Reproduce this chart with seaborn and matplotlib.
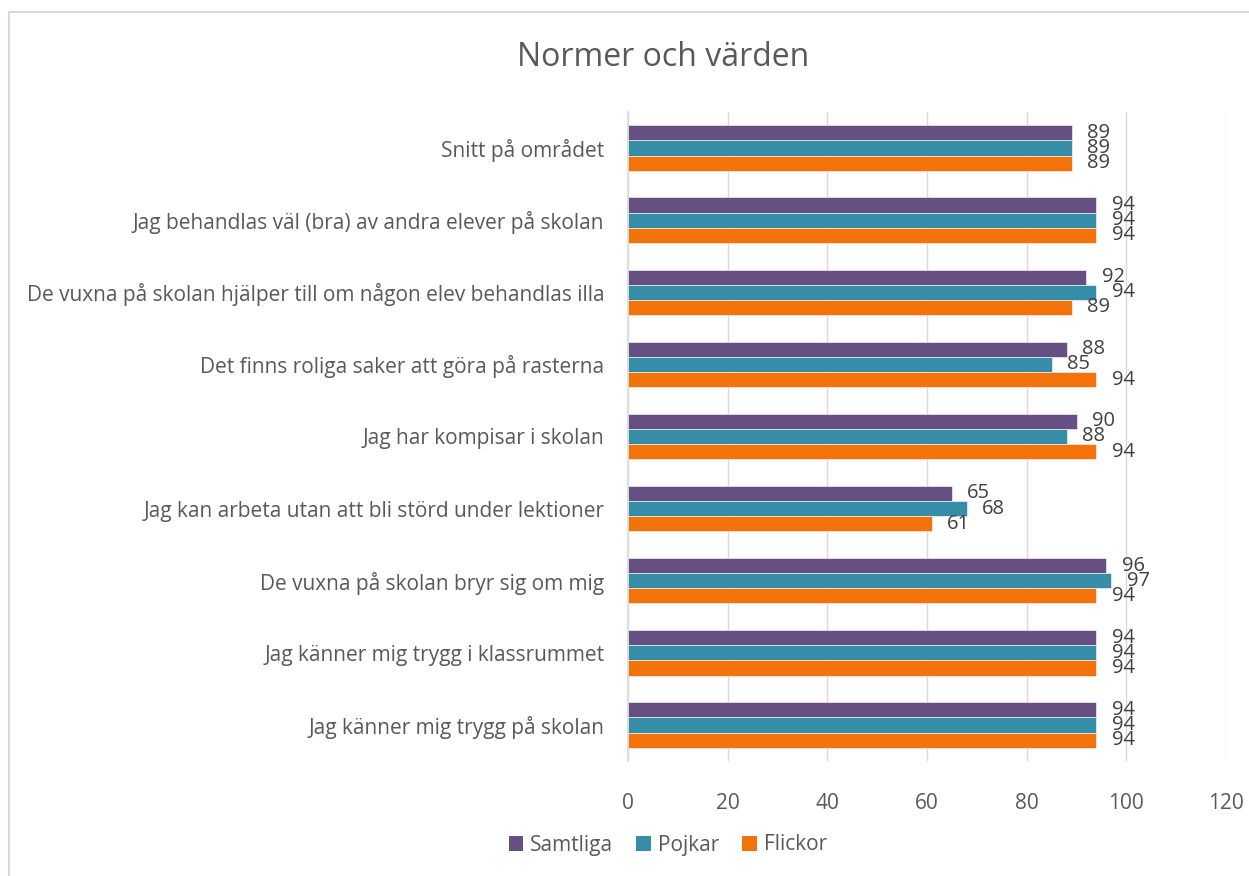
import matplotlib
matplotlib.use("Agg")
import matplotlib.pyplot as plt
import pandas as pd
import seaborn as sns
from matplotlib.lines import Line2D
from matplotlib.patches import Patch

# data, top to bottom as in the chart
categories = [
    "Snitt på området",
    "Jag behandlas väl (bra) av andra elever på skolan",
    "De vuxna på skolan hjälper till om någon elev behandlas illa",
    "Det finns roliga saker att göra på rasterna",
    "Jag har kompisar i skolan",
    "Jag kan arbeta utan att bli störd under lektioner",
    "De vuxna på skolan bryr sig om mig",
    "Jag känner mig trygg i klassrummet",
    "Jag känner mig trygg på skolan",
]
samtliga = [89, 94, 92, 88, 90, 65, 96, 94, 94]
pojkar = [89, 94, 94, 85, 88, 68, 97, 94, 94]
flickor = [89, 94, 89, 94, 94, 61, 94, 94, 94]
series = ["Samtliga", "Pojkar", "Flickor"]
colors = ["#654F83", "#358DA7", "#F2730C"]
xticks = [0, 20, 40, 60, 80, 100, 120]

df = pd.DataFrame({"Samtliga": samtliga, "Pojkar": pojkar, "Flickor": flickor},
                  index=categories)
long = df.reset_index().melt(id_vars="index", var_name="serie", value_name="varde")
long = long.rename(columns={"index": "fraga"})

sns.set_style("white")
plt.rcParams["font.family"] = ["Open Sans", "DejaVu Sans"]
txt = "#595959"
fs = 15

fig = plt.figure(figsize=(12.49, 8.76), dpi=100)
ax = fig.add_axes([628 / 1249, 1 - 761 / 876, (1226 - 628) / 1249, (761 - 112) / 876])

sns.barplot(data=long, x="varde", y="fraga", hue="serie", hue_order=series,
            order=categories, palette=colors, saturation=1, orient="h",
            width=0.63, edgecolor="white", linewidth=0.4, ax=ax, legend=False)

for c in ax.containers:
    ax.bar_label(c, padding=11, fontsize=14.5, color="#404040")

ax.set_xlim(0, 120)
ax.set_xticks(xticks)
ax.set_ylim(len(categories) - 0.5, -0.5)
ax.set_xlabel("")
ax.set_ylabel("")
ax.grid(axis="x", color="#d9d9d9", linewidth=1)
ax.set_axisbelow(True)
for s in ["top", "right", "bottom"]:
    ax.spines[s].set_visible(False)
ax.spines["left"].set_color("#d9d9d9")
ax.spines["left"].set_linewidth(1.2)
ax.tick_params(axis="x", length=0, pad=23, labelsize=fs, labelcolor=txt)
ax.tick_params(axis="y", which="major", length=0, pad=17, labelsize=fs, labelcolor=txt)
ax.set_yticks([i - 0.5 for i in range(len(categories) + 1)], minor=True)
ax.tick_params(axis="y", which="minor", length=6, color="#d9d9d9", width=1.2)

fig.text(663 / 1249, 1 - 57 / 876, "Normer och värden", ha="center", va="center",
         fontsize=23, color=txt)

handles = [Patch(facecolor=col, edgecolor="none") for col in colors]
fig.legend(handles, series, loc="center", bbox_to_anchor=(668 / 1249, 1 - 845 / 876),
           ncol=3, frameon=False, fontsize=fs, handlelength=0.7, handleheight=0.7,
           handletextpad=0.35, columnspacing=1.1, labelcolor=txt)

# chart frame
fig.add_artist(Line2D([9 / 1249, 9 / 1249], [0, 1 - 12 / 876], color="#d9d9d9",
                      linewidth=1.5, transform=fig.transFigure))
fig.add_artist(Line2D([9 / 1249, 1], [1 - 12 / 876, 1 - 12 / 876], color="#d9d9d9",
                      linewidth=1.5, transform=fig.transFigure))

fig.savefig("out.png", dpi=100)
